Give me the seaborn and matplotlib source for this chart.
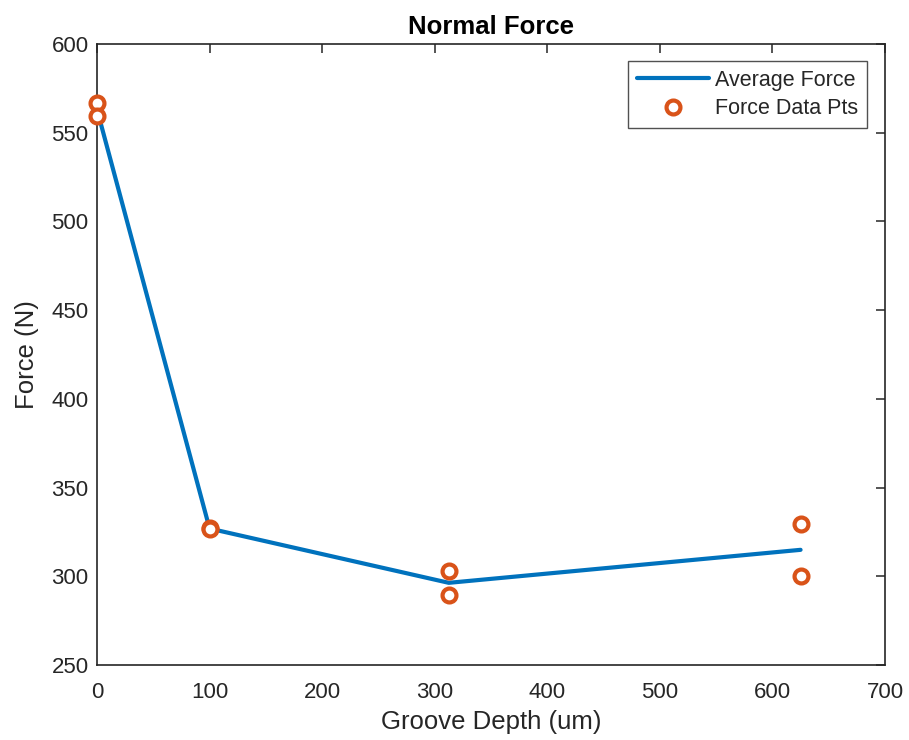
import numpy as np
import pandas as pd
import matplotlib
matplotlib.use("Agg")
import matplotlib.pyplot as plt
import seaborn as sns

# Measured normal force for each groove depth
depth_pts = [0, 0, 100, 100, 312.5, 312.5, 625, 625]
force_pts = [567.0, 559.3, 327.3, 326.5, 303.0, 289.6, 329.4, 300.4]

depth_avg = [0, 100, 312.5, 625]
force_avg = [563.15, 326.9, 296.3, 314.9]

x_ticks = [0, 100, 200, 300, 400, 500, 600, 700]
y_ticks = [250, 300, 350, 400, 450, 500, 550, 600]

sns.set_theme(style="white")
plt.rcParams['font.family'] = ['Liberation Sans', 'DejaVu Sans']

fig = plt.figure(figsize=(9.09, 7.40), dpi=100)
ax = fig.add_axes([0.1067, 0.1014, 0.8669, 0.8391])

avg_df = pd.DataFrame({"depth": depth_avg, "force": force_avg})
pts_df = pd.DataFrame({"depth": depth_pts, "force": force_pts})

sns.lineplot(data=avg_df, x="depth", y="force", ax=ax, color="#0072BD",
             linewidth=3, label="Average Force", sort=False)
ax.plot(pts_df["depth"], pts_df["force"], linestyle="none", marker="o",
        markersize=10, markerfacecolor="white", markeredgecolor="#D95319",
        markeredgewidth=3, label="Force Data Pts", zorder=3, clip_on=False)

ax.set_xlim(0, 700)
ax.set_ylim(250, 600)
ax.set_xticks(x_ticks)
ax.set_yticks(y_ticks)
ax.tick_params(direction="in", length=6.5, width=1.1, colors="#262626",
               labelsize=16, top=True, right=True)
ax.tick_params(axis="x", pad=12)
ax.tick_params(axis="y", pad=6)
for s in ax.spines.values():
    s.set_color("#262626")
    s.set_linewidth(1.2)

ax.set_xlabel("Groove Depth (um)", fontsize=18.5, color="#262626", labelpad=5)
ax.set_ylabel("Force (N)", fontsize=18.5, color="#262626", labelpad=9)
ax.set_title("Normal Force", fontsize=18.5, fontweight="bold", color="black", pad=7)

leg = ax.legend(loc="upper right", fontsize=15.5, frameon=True, fancybox=False,
                edgecolor="#262626", borderpad=0.4, handlelength=3.35,
                handletextpad=0.3, labelspacing=0.35, borderaxespad=0,
                bbox_to_anchor=(0.977, 0.9726))
leg.get_frame().set_linewidth(1)

fig.savefig("out.png", dpi=100, facecolor="white")
